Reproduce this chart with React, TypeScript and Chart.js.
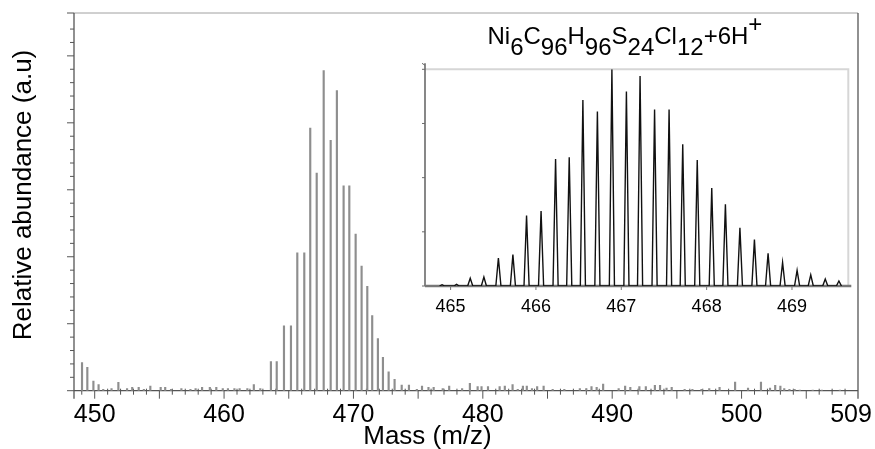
import React, { useEffect, useRef } from 'react';
import { Chart, registerables } from 'chart.js';

Chart.register(...registerables);

const FONT = "'Liberation Sans', Arial, Helvetica, sans-serif";

// ---- Main spectrum (stick plot) ----
const mainMass = [
  449.02, 449.43, 449.9, 450.3, 450.66, 451.3, 451.83, 452.5, 452.9, 453.4, 453.8, 454.3, 455.1, 455.45, 455.9,
  456.7, 457.4, 457.8, 458.3, 458.9, 459.4, 459.9, 460.3, 460.8, 461.2, 461.8, 462.3, 462.8,
  463.62, 464.07, 464.63, 465.17, 465.66, 466.2, 466.66, 467.16, 467.7, 468.24, 468.72, 469.24, 469.68,
  470.17, 470.63, 471.07, 471.45, 471.89, 472.28, 472.72, 473.18, 473.73, 474.29,
  474.9, 475.3, 475.8, 476.2, 476.9, 477.4, 478.4, 479.0, 479.6, 479.9, 480.4, 481.3, 481.7, 482.3, 482.7,
  483.1, 483.4, 483.8, 484.2, 484.7, 485.4, 486.3, 487.5, 488.0, 488.4, 488.8, 489.3, 490.5, 491.0, 491.4,
  492.1, 492.6, 493.3, 493.7, 494.2, 494.6, 495.6, 496.2, 496.9, 497.5, 498.3, 499.5, 500.5, 501.5, 502.2,
  502.6, 503.0, 503.3, 503.7, 504.1, 504.5, 505.5, 506.2, 507.6,
];
const mainAbund = [
  0.42, 0.35, 0.145, 0.09, 0.02, 0.03, 0.125, 0.03, 0.05, 0.05, 0.02, 0.07, 0.05, 0.05, 0.02,
  0.03, 0.02, 0.03, 0.05, 0.05, 0.05, 0.03, 0.03, 0.03, 0.03, 0.03, 0.09, 0.03,
  0.433, 0.433, 0.97, 0.97, 2.06, 2.06, 3.92, 3.25, 4.78, 3.74, 4.48, 3.06, 3.06,
  2.34, 1.86, 1.56, 1.12, 0.78, 0.5, 0.28, 0.17, 0.085, 0.085,
  0.02, 0.07, 0.05, 0.05, 0.03, 0.07, 0.03, 0.11, 0.06, 0.06, 0.06, 0.06, 0.07, 0.09, 0.02,
  0.07, 0.07, 0.03, 0.06, 0.07, 0.02, 0.02, 0.03, 0.03, 0.06, 0.05, 0.1, 0.03, 0.07, 0.05,
  0.06, 0.06, 0.08, 0.08, 0.04, 0.05, 0.02, 0.02, 0.02, 0.03, 0.05, 0.13, 0.04, 0.13, 0.04,
  0.08, 0.07, 0.03, 0.02, 0.02, 0.01, 0.01, 0.01, 0.01,
];
const mainXTicks = [450, 460, 470, 480, 490, 500, 509];
const MAIN_X_MIN = 448.4;
const MAIN_X_MAX = 509;
const MAIN_Y_MAX = 5.64;

// ---- Inset (isotope pattern, 6+) ----
const insetMass = [
  464.9, 465.07, 465.23, 465.39, 465.56, 465.73, 465.89, 466.06, 466.23, 466.39, 466.55, 466.72, 466.89,
  467.06, 467.22, 467.39, 467.56, 467.72, 467.89, 468.06, 468.22, 468.39, 468.56, 468.72, 468.89, 469.06,
  469.22, 469.39, 469.55,
];
const insetAbund = [
  0.006, 0.008, 0.036, 0.041, 0.129, 0.145, 0.325, 0.346, 0.586, 0.594, 0.858, 0.805, 1.0,
  0.897, 0.969, 0.815, 0.815, 0.654, 0.581, 0.452, 0.377, 0.269, 0.214, 0.151, 0.109, 0.072,
  0.051, 0.032, 0.023,
];
const insetXTicks = [465, 466, 467, 468, 469];
const insetYTicks = [0, 0.25, 0.5, 0.75, 1];
const INSET_X_MIN = 464.7;
const INSET_X_MAX = 469.66;

const formulaParts: [string, 'n' | 'sub' | 'sup'][] = [
  ['Ni', 'n'], ['6', 'sub'], ['C', 'n'], ['96', 'sub'], ['H', 'n'], ['96', 'sub'],
  ['S', 'n'], ['24', 'sub'], ['Cl', 'n'], ['12', 'sub'], ['+6H', 'n'], ['+', 'sup'],
];
const xTitle = 'Mass (m/z)';
const yTitle = 'Relative abundance (a.u)';

const PEAK_HALF_WIDTH = 0.03;

function seg(ctx: CanvasRenderingContext2D, x1: number, y1: number, x2: number, y2: number) {
  ctx.beginPath();
  ctx.moveTo(x1, y1);
  ctx.lineTo(x2, y2);
  ctx.stroke();
}

const mainDecor = {
  id: 'mainDecor',
  beforeDatasetsDraw(chart: any) {
    const { ctx, chartArea: a, scales } = chart;
    const x = scales.x;
    const y = scales.y;
    ctx.save();
    ctx.strokeStyle = '#a0a0a0';
    ctx.lineWidth = 1;
    seg(ctx, a.left, a.top, a.right, a.top);
    ctx.strokeStyle = '#555';
    ctx.lineWidth = 1.3;
    seg(ctx, a.left, a.top, a.left, a.bottom + 8);
    seg(ctx, a.right, a.top, a.right, a.bottom + 8);
    seg(ctx, a.left, a.bottom, a.right, a.bottom);
    ctx.lineWidth = 1;
    for (let i = 0; i * 0.2 <= MAIN_Y_MAX - 0.1; i++) {
      const p = y.getPixelForValue(i * 0.2);
      const len = i % 5 === 0 ? 7 : 4;
      seg(ctx, a.left - len, p, a.left, p);
    }
    seg(ctx, a.left - 7, a.top, a.left, a.top);
    for (let v = Math.ceil(MAIN_X_MIN); v < MAIN_X_MAX; v++) {
      const p = x.getPixelForValue(v);
      if (v % 5 === 0) seg(ctx, p, a.bottom, p, a.bottom + 8);
      else seg(ctx, p, a.bottom - 2, p, a.bottom + 4);
    }
    ctx.restore();
  },
  afterDraw(chart: any) {
    const { ctx } = chart;
    ctx.save();
    ctx.fillStyle = '#000';
    ctx.font = `26px ${FONT}`;
    ctx.textAlign = 'center';
    ctx.textBaseline = 'alphabetic';
    ctx.fillText(xTitle, 427.5, 443.5);
    ctx.save();
    ctx.translate(31, 195);
    ctx.rotate(-Math.PI / 2);
    ctx.fillText(yTitle, 0, 0);
    ctx.restore();
    ctx.font = `24px ${FONT}`;
    ctx.textAlign = 'left';
    let cx = 487.5;
    const base = 43.5;
    for (const [t, k] of formulaParts) {
      const yy = k === 'sub' ? base + 11.5 : k === 'sup' ? base - 12 : base;
      ctx.fillText(t, cx, yy);
      cx += ctx.measureText(t).width;
    }
    ctx.restore();
  },
};

const insetDecor = {
  id: 'insetDecor',
  beforeDatasetsDraw(chart: any) {
    const { ctx, chartArea: a, scales } = chart;
    const x = scales.x;
    const y = scales.y;
    ctx.save();
    ctx.strokeStyle = '#d6d6d6';
    ctx.lineWidth = 2;
    ctx.beginPath();
    ctx.moveTo(a.left, a.top);
    ctx.lineTo(a.right, a.top);
    ctx.lineTo(a.right, a.bottom);
    ctx.stroke();
    ctx.strokeStyle = '#6a6a6a';
    ctx.lineWidth = 1.6;
    seg(ctx, a.left, a.top - 6, a.left, a.bottom);
    ctx.lineWidth = 1;
    for (const v of insetYTicks) {
      const p = y.getPixelForValue(v);
      seg(ctx, a.left - 3, p, a.left, p);
    }
    seg(ctx, a.left - 3, a.top - 6, a.left, a.top - 4);
    ctx.strokeStyle = '#777';
    ctx.lineWidth = 2.5;
    seg(ctx, a.left, a.bottom, a.right + 3, a.bottom);
    ctx.lineWidth = 1;
    for (const v of insetXTicks) {
      const p = x.getPixelForValue(v);
      seg(ctx, p, a.bottom, p, a.bottom + 4);
    }
    ctx.restore();
  },
};

export default function App() {
  const mainRef = useRef<HTMLCanvasElement>(null);
  const insetRef = useRef<HTMLCanvasElement>(null);

  useEffect(() => {
    const mainData = mainMass.map((m, i) => ({ x: m, y: mainAbund[i] }));
    const main = new Chart(mainRef.current as HTMLCanvasElement, {
      type: 'bar',
      data: {
        datasets: [
          {
            data: mainData as any,
            backgroundColor: '#8e8e8e',
            borderWidth: 0,
            barThickness: 1.5,
          } as any,
        ],
      },
      options: {
        animation: false,
        responsive: false,
        maintainAspectRatio: false,
        layout: { padding: { left: 0, right: 17, top: 13, bottom: 0 } },
        plugins: { legend: { display: false }, tooltip: { enabled: false }, title: { display: false } },
        scales: {
          x: {
            type: 'linear',
            min: MAIN_X_MIN,
            max: MAIN_X_MAX,
            offset: false,
            grid: { display: false, drawTicks: false },
            border: { display: false },
            ticks: {
              font: { family: FONT, size: 25 },
              color: '#000',
              padding: 9.5,
              maxRotation: 0,
              autoSkip: false,
              // last label sits against the frame edge: pad it so it stays inside the picture
              callback: (v: any) => (v === MAIN_X_MAX ? `${v}  ` : `${v}`),
            },
            afterBuildTicks: (s: any) => {
              s.ticks = mainXTicks.map((v) => ({ value: v }));
            },
            afterFit: (s: any) => {
              s.height = 58.3;
              s.paddingLeft = 0;
              s.paddingRight = 0;
            },
          },
          y: {
            type: 'linear',
            min: 0,
            max: MAIN_Y_MAX,
            grid: { display: false, drawTicks: false },
            border: { display: false },
            ticks: { display: false },
            afterFit: (s: any) => {
              s.width = 74;
              s.paddingTop = 0;
              s.paddingBottom = 0;
            },
          },
        },
      } as any,
      plugins: [mainDecor],
    });

    const insetData: { x: number; y: number }[] = [];
    insetMass.forEach((m, i) => {
      insetData.push({ x: m - PEAK_HALF_WIDTH, y: 0 }, { x: m, y: insetAbund[i] }, { x: m + PEAK_HALF_WIDTH, y: 0 });
    });
    const inset = new Chart(insetRef.current as HTMLCanvasElement, {
      type: 'scatter',
      data: {
        datasets: [
          {
            data: insetData,
            showLine: true,
            borderColor: '#111',
            borderWidth: 1.4,
            pointRadius: 0,
            tension: 0,
            fill: false,
          } as any,
        ],
      },
      options: {
        animation: false,
        responsive: false,
        maintainAspectRatio: false,
        layout: { padding: { left: 0, right: 11.7, top: 14.3, bottom: 0 } },
        plugins: { legend: { display: false }, tooltip: { enabled: false } },
        scales: {
          x: {
            type: 'linear',
            min: INSET_X_MIN,
            max: INSET_X_MAX,
            grid: { display: false, drawTicks: false },
            border: { display: false },
            ticks: {
              font: { family: FONT, size: 18 },
              color: '#000',
              padding: 10,
              maxRotation: 0,
              autoSkip: false,
            },
            afterBuildTicks: (s: any) => {
              s.ticks = insetXTicks.map((v) => ({ value: v }));
            },
            afterFit: (s: any) => {
              s.height = 39;
              s.paddingLeft = 0;
              s.paddingRight = 0;
            },
          },
          y: {
            type: 'linear',
            min: 0,
            max: 1,
            grid: { display: false, drawTicks: false },
            border: { display: false },
            ticks: { display: false },
            afterFit: (s: any) => {
              s.width = 25;
            },
          },
        },
      } as any,
      plugins: [insetDecor],
    });

    return () => {
      main.destroy();
      inset.destroy();
    };
  }, []);

  return (
    <div style={{ position: 'fixed', left: 0, top: 0, width: 875, height: 449, background: '#fff' }}>
      <canvas
        ref={mainRef}
        width={875}
        height={449}
        style={{ position: 'absolute', left: 0, top: 0, width: 875, height: 449 }}
      />
      <canvas
        ref={insetRef}
        width={460}
        height={270}
        style={{ position: 'absolute', left: 400, top: 55, width: 460, height: 270 }}
      />
    </div>
  );
}
